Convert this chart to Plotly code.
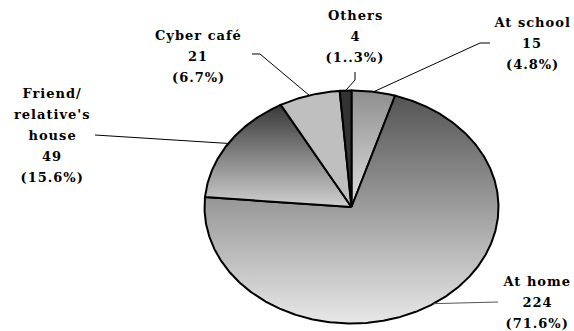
import numpy as np
import plotly.graph_objects as go

# ---- data -------------------------------------------------------------
places = ["At school", "At home", "Friend/ relative's house", "Cyber café", "Others"]
label_lines = [["At school"], ["At home"], ["Friend/", "relative's", "house"], ["Cyber café"], ["Others"]]
counts = [15, 224, 49, 21, 4]
percent_text = ["4.8%", "71.6%", "15.6%", "6.7%", "1..3%"]

# ---- styling / layout ---------------------------------------------------
W, H = 574, 331
CX, CY, RX, RY = 351.5, 207.0, 147.0, 116.5       # ellipse in pixel space
LINE_H = 21                                        # label line pitch (px)
FONT = dict(family="DejaVu Serif", size=13, color="black", weight="bold")

slice_fill = {
    "At school": dict(scale=[[0, "#8e8e8e"], [1, "#e0e0e0"]]),
    "At home": dict(scale=[[0, "#545454"], [1, "#e8e8e8"]]),
    "Friend/ relative's house": dict(scale=[[0, "#383838"], [1, "#d0d0d0"]]),
    "Cyber café": dict(solid="#bfbfbf"),
    "Others": dict(solid="#333333"),
}

# label block centre (x, y of first line) and leader elbow points
label_pos = {
    "At school": (532, 22),
    "At home": (537, 281),
    "Friend/ relative's house": (52, 93),
    "Cyber café": (198, 35),
    "Others": (355, 15),
}
leader_path = {
    "At school": [(480, 43), (490, 43)],
    "At home": [(498, 302)],
    "Friend/ relative's house": [(95, 135)],
    "Cyber café": [(260, 54), (252, 54)],
    "Others": [(355, 80), (355, 72)],
}
leader_color = {"At home": "#555555"}

fig = go.Figure()
total = float(sum(counts))
cum = 0.0
annotations = []
for name, lines, v, pct in zip(places, label_lines, counts, percent_text):
    frac = v / total
    a0, a1 = cum * 2 * np.pi, (cum + frac) * 2 * np.pi
    cum += frac
    th = np.linspace(a0, a1, max(int(frac * 720), 3))
    xs = np.concatenate([[CX], CX + RX * np.sin(th), [CX]])
    ys = np.concatenate([[CY], CY - RY * np.cos(th), [CY]])

    style = slice_fill[name]
    kw = {}
    if "scale" in style:
        kw["fillgradient"] = dict(type="vertical", colorscale=style["scale"],
                                  start=float(ys.min()), stop=float(ys.max()))
    else:
        kw["fillcolor"] = style["solid"]
    fig.add_trace(go.Scatter(x=xs, y=ys, mode="lines", fill="toself",
                             line=dict(color="black", width=2), hoverinfo="skip",
                             showlegend=False, **kw))

    # leader line from the slice's mid-arc point
    mid = (a0 + a1) / 2
    pts = [(CX + RX * np.sin(mid), CY - RY * np.cos(mid))] + leader_path[name]
    fig.add_trace(go.Scatter(x=[p[0] for p in pts], y=[p[1] for p in pts], mode="lines",
                             line=dict(color=leader_color.get(name, "black"), width=1),
                             hoverinfo="skip", showlegend=False))

    # label text, one annotation per line
    lx, ly = label_pos[name]
    for k, txt in enumerate(lines + [str(v), f"({pct})"]):
        annotations.append(dict(x=lx, y=ly + k * LINE_H, text=txt, showarrow=False,
                                xanchor="center", yanchor="middle", font=FONT,
                                borderpad=0))

fig.update_layout(
    width=W, height=H,
    margin=dict(l=0, r=0, t=0, b=0),
    paper_bgcolor="white", plot_bgcolor="white",
    xaxis=dict(range=[0, W], visible=False, fixedrange=True),
    yaxis=dict(range=[H, 0], visible=False, fixedrange=True),
    annotations=annotations,
)

# widen the tracking of the label text slightly
spacing_js = """
document.querySelectorAll('.annotation-text').forEach(function(t){
    t.style.letterSpacing = '1px';
});
"""
fig.write_html("out.html", post_script=spacing_js)
